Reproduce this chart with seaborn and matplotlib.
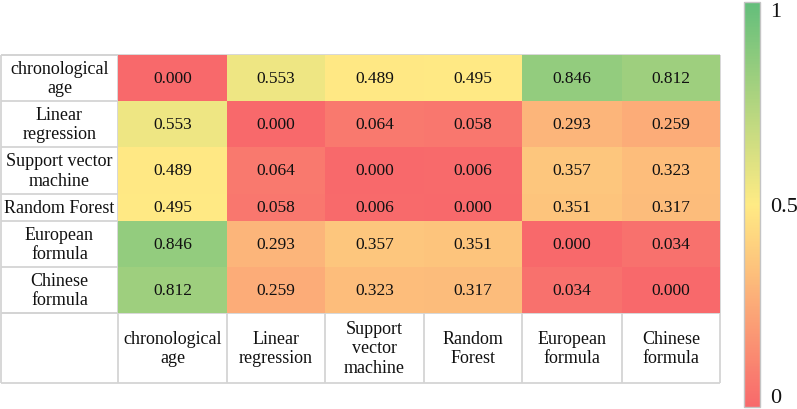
import numpy as np
import pandas as pd
import matplotlib
matplotlib.use("Agg")
import matplotlib.pyplot as plt
import seaborn as sns
from matplotlib.colors import LinearSegmentedColormap

# ---------------- data ----------------
row_labels = ["chronological\nage", "Linear\nregression", "Support vector\nmachine",
              "Random Forest", "European\nformula", "Chinese\nformula"]
col_labels = ["chronological\nage", "Linear\nregression", "Support\nvector\nmachine",
              "Random\nForest", "European\nformula", "Chinese\nformula"]
chronological_age = [0.000, 0.553, 0.489, 0.495, 0.846, 0.812]
linear_regression = [0.553, 0.000, 0.064, 0.058, 0.293, 0.259]
support_vector_machine = [0.489, 0.064, 0.000, 0.006, 0.357, 0.323]
random_forest = [0.495, 0.058, 0.006, 0.000, 0.351, 0.317]
european_formula = [0.846, 0.293, 0.357, 0.351, 0.000, 0.034]
chinese_formula = [0.812, 0.259, 0.323, 0.317, 0.034, 0.000]
cbar_ticks = [0, 0.5, 1]
cbar_ticklabels = ["0", "0.5", "1"]

df = pd.DataFrame([chronological_age, linear_regression, support_vector_machine,
                   random_forest, european_formula, chinese_formula],
                  index=row_labels, columns=col_labels)

# ---------------- layout (pixels) ----------------
W, H = 797, 410
col_edges = [118, 227, 325, 424, 522, 622, 720]
row_edges = [56, 102, 148, 195, 222, 268, 314]
table_bottom = 384
left_edge = 1

plt.rcParams["font.family"] = ["Liberation Serif", "DejaVu Serif"]
TXT = "#111111"
GRID = "#d4d4d4"


def rect(x0, y0, x1, y1):
    return [x0 / W, 1 - y1 / H, (x1 - x0) / W, (y1 - y0) / H]


def make_scale(edges):
    e = np.asarray(edges, float)
    idx = np.arange(len(e), dtype=float)
    ix = np.concatenate([[-1000.0], idx, [len(e) - 1 + 1000.0]])
    ex = np.concatenate([[e[0] - 1000 * (e[1] - e[0])], e,
                         [e[-1] + 1000 * (e[-1] - e[-2])]])

    def fwd(v):
        return np.interp(v, ix, ex)

    def inv(v):
        return np.interp(v, ex, ix)

    return fwd, inv


cmap = LinearSegmentedColormap.from_list("excel3", ["#F8696B", "#FFEB84", "#63BE7B"])

fig = plt.figure(figsize=(W / 100, H / 100), dpi=100)
fig.patch.set_facecolor("white")

# background grid lines for the label cells
bg = fig.add_axes([0, 0, 1, 1], zorder=-1)
bg.set_xlim(0, W)
bg.set_ylim(H, 0)
bg.axis("off")
for y in row_edges:
    bg.hlines(y, left_edge, col_edges[0], color=GRID, lw=1.3)
for y in [row_edges[0] - 0.5, row_edges[-1], table_bottom]:
    bg.hlines(y, left_edge, col_edges[-1], color=GRID, lw=1.3)
bg.vlines([left_edge, col_edges[0], col_edges[-1] + 0.5], row_edges[0], table_bottom,
          color=GRID, lw=1.3)
bg.vlines(col_edges[1:-1], row_edges[-1], table_bottom, color=GRID, lw=1.3)

# heatmap
ax = fig.add_axes(rect(col_edges[0], row_edges[0], col_edges[-1], row_edges[-1]))
ax.set_xscale("function", functions=make_scale(col_edges))
ax.set_yscale("function", functions=make_scale(row_edges))
cax = fig.add_axes(rect(744, 3, 760, 408))

sns.heatmap(df, ax=ax, cmap=cmap, vmin=0, vmax=1, annot=True, fmt=".3f",
            annot_kws=dict(color=TXT, fontsize=12.5), cbar=True, cbar_ax=cax,
            xticklabels=col_labels, yticklabels=row_labels, linewidths=0)

ax.tick_params(axis="both", length=0)
ax.set_xticklabels(col_labels, rotation=0, ha="center", va="center",
                   fontsize=13, color=TXT)
ax.set_yticklabels(row_labels, rotation=0, ha="center", va="center",
                   fontsize=13, color=TXT)
ax.tick_params(axis="x", pad=(np.mean([row_edges[-1], table_bottom]) - row_edges[-1]) * 0.72)
ax.tick_params(axis="y", pad=(col_edges[0] - left_edge) / 2 * 0.72)
ax.set_xlabel("")
ax.set_ylabel("")
for s in ax.spines.values():
    s.set_visible(False)

# colorbar
cbar = ax.collections[0].colorbar
cbar.set_ticks(cbar_ticks, labels=cbar_ticklabels)
cbar.ax.tick_params(length=0, pad=7, labelsize=16, colors=TXT)
cbar.outline.set_edgecolor("#c4c4c4")
cbar.outline.set_linewidth(1.0)
tl = cbar.ax.get_yticklabels()
tl[0].set_va("bottom")
tl[-1].set_va("top")

fig.savefig("out.png", dpi=100, facecolor="white")
